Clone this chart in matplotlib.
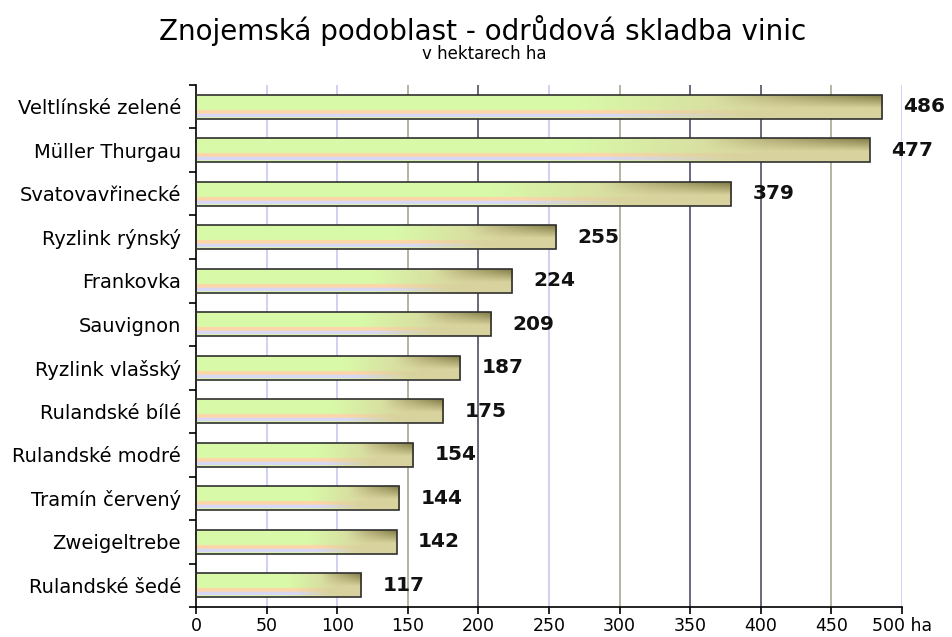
import numpy as np
import matplotlib
matplotlib.use('Agg')
import matplotlib.pyplot as plt

# odrudy a plochy (ha), shora dolu
odrudy = ['Veltlínské zelené', 'Müller Thurgau', 'Svatovavřinecké', 'Ryzlink rýnský',
          'Frankovka', 'Sauvignon', 'Ryzlink vlašský', 'Rulandské bílé',
          'Rulandské modré', 'Tramín červený', 'Zweigeltrebe', 'Rulandské šedé']
plochy = [486, 477, 379, 255, 224, 209, 187, 175, 154, 144, 142, 117]
xticks = [0, 50, 100, 150, 200, 250, 300, 350, 400, 450, 500]
xlabels = ['0', '50', '100', '150', '200', '250', '300', '350', '400', '450', '500 ha']

plt.rcParams['font.family'] = ['DejaVu Sans']

def bar_texture(w=200, h=40):
    # gradient zelena -> khaki, nahore vpravo tmava olivova, dole oranzovy a levandulovy pruh
    u = np.linspace(0, 1, w)[None, :]
    v = np.linspace(0, 1, h)[:, None]
    green = np.array([0.85, 0.98, 0.66])
    khaki = np.array([0.85, 0.83, 0.62])
    olive = np.array([0.50, 0.48, 0.26])
    orange = np.array([0.99, 0.84, 0.66])
    lav = np.array([0.85, 0.85, 0.96])
    t = np.clip((u - 0.55) / 0.3, 0, 1)
    img = green * (1 - t[..., None]) + khaki * t[..., None]
    img = np.broadcast_to(img, (h, w, 3)).copy()
    # pruhy dole
    s = np.clip((u - 0.6) / 0.2, 0, 1)[0]
    band_o = (v[:, 0] > 0.62) & (v[:, 0] <= 0.78)
    band_l = (v[:, 0] > 0.78) & (v[:, 0] <= 0.93)
    for j in range(w):
        img[band_o, j] = orange * (1 - s[j]) + khaki * s[j]
        img[band_l, j] = lav * (1 - s[j]) + khaki * s[j]
    # tmavnuti vpravo nahore
    d = np.clip((u - 0.75) / 0.25, 0, 1) * np.clip(1 - v / 0.55, 0, 1)
    img = img * (1 - d[..., None]) + olive * d[..., None]
    return np.clip(img, 0, 1)

tex = bar_texture()

fig = plt.figure(figsize=(9.53, 6.37), dpi=100)
ax = fig.add_axes([0.2057, 0.047, 0.7408, 0.8196])

n = len(odrudy)
ypos = np.arange(n)[::-1]
h = 0.55

grid_colors = ['#000000', '#c8c8f0', '#c8c8f0', '#a8a890', '#505060', '#c8c8f0',
               '#a8a890', '#505068', '#505068', '#a8a890', '#c8c8f8']
for x, c in zip(xticks[1:], grid_colors[1:]):
    ax.axvline(x, color=c, lw=1.2, zorder=0)

bars = ax.barh(ypos, plochy, height=h, color='none', edgecolor='#303030', lw=1.2, zorder=3)
for y, val in zip(ypos, plochy):
    ax.imshow(tex, extent=(0, val, y - h / 2, y + h / 2), origin='upper',
              aspect='auto', zorder=2, interpolation='bilinear')
    ax.text(val + 15, y, str(val), va='center', ha='left', fontsize=14.5,
            fontweight='bold', color='#111111', zorder=4)

ax.set_xlim(0, 500)
ax.set_ylim(-0.5, n - 0.5)
ax.set_xticks(xticks)
ax.set_xticklabels(xlabels, fontsize=12.5)
ax.set_yticks(ypos)
ax.set_yticklabels(odrudy, fontsize=14)
ax.tick_params(axis='y', length=0, pad=11)
ax.set_yticks(np.arange(n + 1) - 0.5, minor=True)
ax.tick_params(axis='y', which='minor', length=5, width=1.2)
ax.tick_params(axis='x', length=5, width=1.2, pad=2)
for side in ['top', 'right']:
    ax.spines[side].set_visible(False)
ax.spines['left'].set_linewidth(1.2)
ax.spines['bottom'].set_linewidth(1.2)

fig.text(0.506, 0.952, 'Znojemská podoblast - odrůdová skladba vinic',
         ha='center', va='center', fontsize=20)
fig.text(0.508, 0.916, 'v hektarech ha', ha='center', va='center', fontsize=12)

fig.savefig('out.png', dpi=100)
